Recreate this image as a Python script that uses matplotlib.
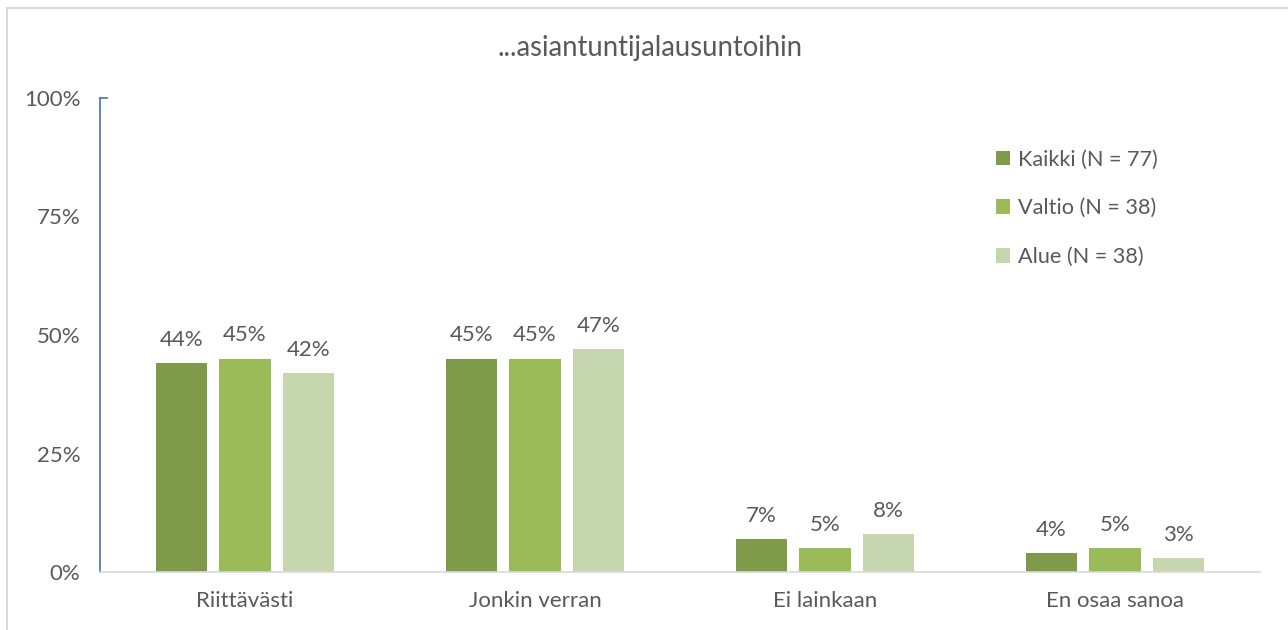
import matplotlib
matplotlib.use("Agg")
import matplotlib.pyplot as plt
from matplotlib.patches import Rectangle
import numpy as np

categories = ["Riittävästi", "Jonkin verran", "Ei lainkaan", "En osaa sanoa"]
series_names = ["Kaikki (N = 77)", "Valtio (N = 38)", "Alue (N = 38)"]
kaikki = [44, 45, 7, 4]
valtio = [45, 45, 5, 5]
alue = [42, 47, 8, 3]
yticks = [0, 25, 50, 75, 100]
title = "...asiantuntijalausuntoihin"

colors = ["#7F9A48", "#9BBB59", "#C6D6AE"]
txt = "#595959"
plt.rcParams['font.family'] = ['Lato', 'DejaVu Sans']

fig = plt.figure(figsize=(12.88, 6.3), dpi=100)
fig.patches.append(Rectangle((7/1288, -0.1), 1.2, 1.1 - 8/630, transform=fig.transFigure,
                             fill=False, edgecolor="#D9D9D9", linewidth=1.5))
ax = fig.add_axes([100/1288, 1 - 572/630, 1160/1288, 474/630])

x = np.arange(len(categories))
w = 0.176
off = 0.22
for i, (vals, name) in enumerate(zip([kaikki, valtio, alue], series_names)):
    bars = ax.bar(x + (i - 1) * off, vals, w, color=colors[i], label=name)
    for b, v in zip(bars, vals):
        ax.text(b.get_x() + b.get_width() / 2, v + 2.8, f"{v}%", ha="center", va="bottom",
                fontsize=16, color=txt)

ax.set_xlim(-0.5, len(categories) - 0.5)
ax.set_ylim(0, 100)
ax.set_yticks(yticks)
ax.set_yticklabels([f"{t}%" for t in yticks])
ax.set_xticks(x)
ax.set_xticklabels(categories)
ax.tick_params(axis="both", length=0, labelsize=16, labelcolor=txt)
ax.tick_params(axis="y", pad=14)
ax.tick_params(axis="x", pad=14)
for s in ["top", "right"]:
    ax.spines[s].set_visible(False)
ax.spines["left"].set_color("#4472C4")
ax.spines["left"].set_linewidth(1.2)
ax.spines["bottom"].set_color("#D9D9D9")
ax.spines["bottom"].set_linewidth(1.2)
ax.plot([0, 0.006], [1, 1], transform=ax.transAxes, color="#4472C4", lw=1.2, clip_on=False)

fig.text(650/1288, 1 - 48/630, title, fontsize=19.8, color=txt, ha="center", va="center")

leg = ax.legend(loc="upper left", bbox_to_anchor=(0.7555, 0.932), frameon=False, fontsize=15.6,
                labelspacing=1.32, handlelength=0.65, handleheight=0.65, handletextpad=0.35)
for t in leg.get_texts():
    t.set_color(txt)

fig.savefig("out.png", dpi=100)
